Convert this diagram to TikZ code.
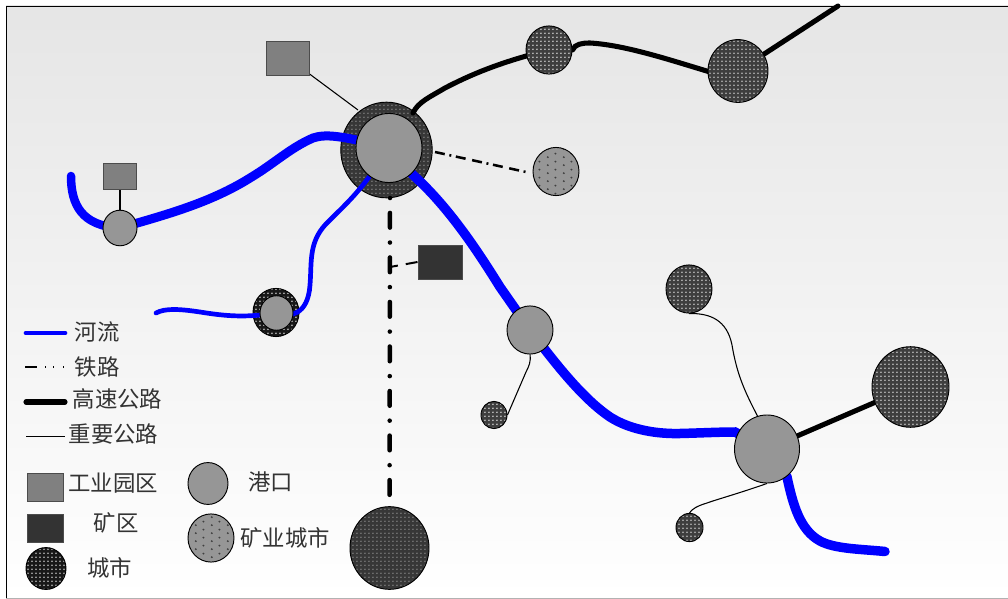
\documentclass[tikz,border=0pt]{standalone}
\usepackage{fontspec}
\newfontfamily\cjk{Noto Sans CJK SC}
\usetikzlibrary{patterns,shapes.geometric}
\pgfdeclarelayer{back}\pgfdeclarelayer{ringl}\pgfdeclarelayer{conn}
\pgfsetlayers{back,ringl,conn,main}
\pgfdeclarepatternformonly{citydots}{\pgfqpoint{0pt}{0pt}}{\pgfqpoint{3.3pt}{3.1pt}}{\pgfqpoint{3.3pt}{3.1pt}}{
  \pgfpathcircle{\pgfqpoint{1.65pt}{1.55pt}}{0.8pt}\pgfusepath{fill}}
\pgfdeclarepatternformonly{minedots}{\pgfqpoint{0pt}{0pt}}{\pgfqpoint{12pt}{6pt}}{\pgfqpoint{12pt}{6pt}}{
  \pgfpathcircle{\pgfqpoint{3pt}{1.5pt}}{0.85pt}\pgfpathcircle{\pgfqpoint{9pt}{4.5pt}}{0.85pt}\pgfusepath{fill}}
\definecolor{portg}{HTML}{969696}
\definecolor{boxg}{HTML}{808080}
\definecolor{mineb}{HTML}{333333}
\tikzset{
  x=0.75pt,y=-0.75pt,
  dot/.style={ellipse,draw=black,line width=0.7pt,inner sep=0pt,minimum width=#1*1.5pt,minimum height=#1*1.57pt},
  port/.style={dot=#1,fill=portg},
  city/.style={dot=#1,preaction={fill={rgb,255:red,62;green,62;blue,62}},pattern=citydots,pattern color={rgb,255:red,190;green,190;blue,190}},
  citylow/.style={dot=#1,preaction={fill={rgb,255:red,55;green,55;blue,55}},pattern=citydots,pattern color={rgb,255:red,115;green,115;blue,115}},
  cityhi/.style={dot=#1,preaction={fill={rgb,255:red,24;green,24;blue,24}},pattern=citydots,pattern color={rgb,255:red,190;green,190;blue,190}},
  minec/.style={dot=#1,preaction={fill=portg},pattern=minedots,pattern color=black!75},
  indbox/.style={rectangle,draw=black!70,line width=0.7pt,fill=boxg,inner sep=0pt,minimum width=#1*0.75pt},
  minbox/.style={rectangle,draw=black!70,line width=0.7pt,fill=mineb,inner sep=0pt,minimum width=#1*0.75pt},
  lab/.style={font=\cjk\fontsize{16.8}{18}\selectfont,inner sep=0pt,text=black!80},
  river/.style={draw=blue,line width=#1*0.75pt,line cap=round},
  highway/.style={draw=black,line width=3.8pt,line cap=round},
  road/.style={draw=black,line width=0.8pt},
  railmain/.style={draw=black,line width=3.4pt,line cap=round,dash pattern=on 0pt off 11.2pt on 11pt off 11.2pt},
  railbranch/.style={draw=black,line width=1.9pt,dash pattern=on 7.5pt off 3.5pt on 1.5pt off 3.5pt on 7.5pt off 5pt},
}
\begin{document}
\begin{tikzpicture}
\useasboundingbox (0,0) rectangle (1008,599);
\begin{pgfonlayer}{back}
\shade[top color=black!10,bottom color=white] (6,6) rectangle (1008,598);
\draw[black,line width=0.7pt] (6,598) -- (6,6) -- (1008,6);
\draw[black!30,line width=0.7pt] (6,598) -- (1008,598);
\end{pgfonlayer}
% rings
\begin{pgfonlayer}{ringl}
\node[citylow=45.7] (ringA) at (386.5,150) {};
\node[cityhi=23] (ringB) at (276,312.5) {};
\end{pgfonlayer}
% nodes
\node[port=33] (pA) at (389,148) {};
\node[port=17] (pB) at (120,228) {};
\node[port=16.5] (pC) at (276.5,313) {};
\node[port=23] (pD) at (530,330) {};
\node[port=32.5] (pE) at (767,449) {};
\node[city=23] (c1) at (549,50) {};
\node[city=30] (c2) at (738,71) {};
\node[citylow=39.5] (c3) at (389.5,548) {};
\node[city=38.5] (c4) at (910.5,387) {};
\node[city=23] (c5) at (689,289) {};
\node[city=13] (c6) at (494,415) {};
\node[city=13.5] (c7) at (689.5,527.5) {};
\node[minec=23] (m1) at (556,171.5) {};
\node[indbox=43,minimum height=25.5pt] (b1) at (288,58) {};
\node[indbox=33.5,minimum height=20pt] (b2) at (120,176.5) {};
\node[minbox=44,minimum height=25.5pt] (b3) at (440,262) {};
% free ends
\coordinate (r1) at (71,176);
\coordinate (r2) at (156,313);
\coordinate (r3) at (885,551.5);
\coordinate (h1) at (838,6);
\coordinate (h0) at (413,113);
\coordinate (raila) at (390,198);
\coordinate (mra) at (435,152);
\coordinate (mrb) at (526,172);
\coordinate (jct) at (390,267);
\coordinate (bend) at (358,110);
% connectors
\begin{pgfonlayer}{conn}
\draw[river=8.5] (r1) .. controls (71,205) and (82,226) .. (pB.center);
\draw[river=9] (pB.center) .. controls (165,215) and (210,203) .. (250,178) .. controls (275,163) and (290,148) .. (313,138) .. controls (325,134) and (340,135) .. (pA.center);
\draw[river=9.5] (pA.center) -- (413,175) .. controls (450,208) and (480,255) .. (500,287) -- (pD.center);
\draw[river=9.5] (pD.center) .. controls (560,370) and (585,400) .. (610,417) .. controls (632,431) and (660,434) .. (680,433.5) .. controls (700,433) and (720,432) .. (735,432) -- (pE.center);
\draw[river=9.5] (pE.center) -- (787,477) .. controls (793,505) and (800,530) .. (820,541) .. controls (835,549) and (860,549) .. (r3);
\draw[river=4.7] (r2) .. controls (165,308) and (180,309) .. (200,312) .. controls (225,316) and (245,318) .. (pC.center);
\draw[river=4.7] (pC.center) .. controls (290,318) and (308,315) .. (310,285) .. controls (312,260) and (308,240) .. (330,220) .. controls (350,200) and (362,190) .. (pA.center);
\draw[highway] (h0) .. controls (418,102) and (430,97) .. (445,88) .. controls (470,75) and (500,62) .. (c1.center);
\draw[highway] (c1.east) .. controls (575,44) and (582,43) .. (590,43) .. controls (625,45) and (670,60) .. (710,72) -- (c2.center);
\draw[highway] (c2.center) -- (h1);
\draw[highway] (pE.center) -- (c4.center);
\draw[road] (b1.center) -- (bend);
\draw[road] (b2.center) -- (pB.center);
\draw[road] (c5.south) .. controls (710,313) and (727,320) .. (732,345) .. controls (737,375) and (745,392) .. (758,417) -- (pE.center);
\draw[road] (pD.south) .. controls (531,362) and (529,366) .. (526,372) -- (c6.east);
\draw[road] (pE.south) .. controls (740,493) and (715,500) .. (707,503) .. controls (697,506) and (692,509) .. (c7.north);
\draw[railmain] (raila) -- (c3.center);
\end{pgfonlayer}
\draw[railbranch] (mra) -- (mrb);
\draw[line width=1.5pt,draw=black,dash pattern=on 6pt off 6pt on 9pt off 6pt] (jct) -- (b3.west);
% legend
\coordinate (l1a) at (26,333); \coordinate (l1b) at (65,333);
\coordinate (l2a) at (25,367); \coordinate (l2b) at (66,367);
\coordinate (l3a) at (26,402); \coordinate (l3b) at (65,402);
\coordinate (l4a) at (26,436); \coordinate (l4b) at (65,436);
\draw[river=4.7] (l1a) -- (l1b);
\draw[black,line width=1.2pt,dash pattern=on 9pt off 6pt on 1pt off 5pt on 1pt off 6.5pt on 1pt off 5pt] (l2a) -- (l2b);
\draw[highway] (l3a) -- (l3b);
\draw[road,line width=0.5pt] (l4a) -- (l4b);
\node[lab] (t1) at (97,332) {河流};
\node[lab] (t2) at (97,367) {铁路};
\node[lab] (t3) at (117.5,399) {高速公路};
\node[lab] (t4) at (113.5,434) {重要公路};
\node[indbox=36,minimum height=21pt] (lb1) at (45,487) {};
\node[lab] (t5) at (113,483) {工业园区};
\node[minbox=36,minimum height=21pt] (lb2) at (45,528) {};
\node[lab] (t6) at (116,523) {矿区};
\node[cityhi=20] (lc) at (46,568.5) {};
\node[lab] (t7) at (110,568) {城市};
\node[port=20] (lp) at (208,483.5) {};
\node[lab] (t8) at (270.5,482) {港口};
\node[minec=23] (lm) at (211,538) {};
\node[lab] (t9) at (285,538) {矿业城市};
\end{tikzpicture}
\end{document}
